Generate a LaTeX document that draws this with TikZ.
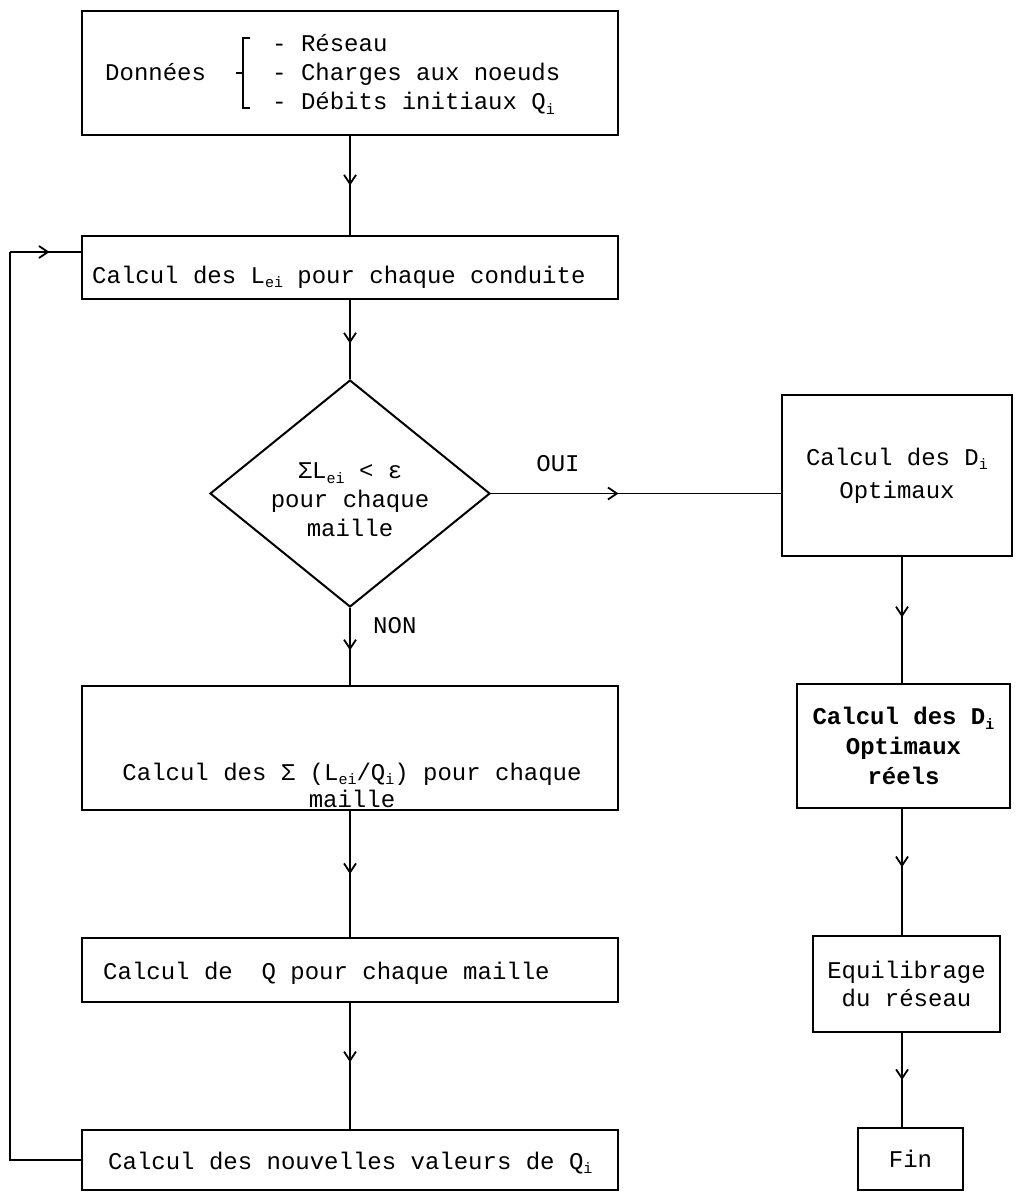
\documentclass[tikz,border=0pt]{standalone}
\usepackage{fontspec}
\setmainfont{Liberation Mono}
\usetikzlibrary{shapes.geometric,arrows.meta,decorations.markings,calc}
\newcommand\sbs[1]{\raisebox{-0.35ex}{\fontsize{15}{15}\selectfont #1}}
\begin{document}
\begin{tikzpicture}[x=1pt,y=-1pt,
  txt/.style={font=\fontsize{24}{24}\selectfont, inner sep=0pt},
  box/.style={draw, line width=2pt, inner sep=0pt},
  flow/.style={line width=1.8pt},
  midarrow/.style={postaction={decorate,decoration={markings,
      mark=at position #1 with {\arrow{Straight Barb[length=9pt,width=12pt,line width=1.8pt]}}}}},
  midarrow/.default=0.5]
\useasboundingbox[fill=white] (0,0) rectangle (1024,1201);

% left column boxes
\node[box, minimum width=536pt, minimum height=124pt] (top) at (350,73) {};
\node[txt, anchor=base west] (tdon) at (105,81) {Données};
\draw[line width=1.6pt] (250,38) -- (243,38) -- (243,108) -- (250,108) (243,73) -- (236,73);
\node[txt, anchor=base west] (t1) at (272,52) {- Réseau};
\node[txt, anchor=base west] (t2) at (272,81) {- Charges aux noeuds};
\node[txt, anchor=base west] (t3) at (272,110) {- Débits initiaux Q\sbs{i}};

\node[box, minimum width=536pt, minimum height=63pt] (b2) at (350,267.5) {};
\node[txt, anchor=base west] (b2t) at (92,283) {Calcul des L\sbs{ei} pour chaque conduite};

\node[diamond, draw, line width=2pt, inner sep=0pt, minimum width=280pt, minimum height=227pt] (dia) at (350,493.5) {};
\node[txt, align=center, font=\fontsize{24}{29}\selectfont] (diat) at (350,500) {ΣL\sbs{ei} < ε\\pour chaque\\maille};

\node[box, minimum width=536pt, minimum height=124pt] (sig) at (350,748) {};
\node[txt, align=center, font=\fontsize{24}{27}\selectfont] (sigt) at (352,785) {Calcul des Σ (L\sbs{ei}/Q\sbs{i}) pour chaque\\maille};

\node[box, minimum width=536pt, minimum height=64pt] (q) at (350,970) {};
\node[txt, anchor=base west] (qt) at (103,979) {Calcul de\ \ Q pour chaque maille};

\node[box, minimum width=536pt, minimum height=60pt] (bot) at (350,1160) {};
\node[txt, anchor=base west] (bott) at (108,1169) {Calcul des nouvelles valeurs de Q\sbs{i}};

% right column
\node[box, minimum width=230pt, minimum height=161pt, align=center, font=\fontsize{24}{33}\selectfont] (r1) at (897,475.5) {Calcul des D\sbs{i}\\Optimaux};
\node[box, line width=2.8pt, minimum width=213pt, minimum height=124pt, align=center, font=\fontsize{24}{30}\selectfont\bfseries] (r2) at (903.5,746) {Calcul des D\sbs{i}\\Optimaux\\réels};
\node[box, minimum width=187pt, minimum height=96pt, align=center, font=\fontsize{24}{28}\selectfont] (r3) at (906.5,984) {Equilibrage\\du réseau};
\node[box, minimum width=105pt, minimum height=62pt, font=\fontsize{24}{24}\selectfont] (fin) at (910.5,1159) {Fin};

\coordinate (spine) at (902,0);
\coordinate (fbc) at (10,252);
\coordinate (b2in) at (82,252);

% labels
\node[txt, anchor=base] (oui) at (558,471) {OUI};
\node[txt, anchor=base west] (non) at (373,633) {NON};

% connectors
\draw[flow, midarrow=0.5] (top.south) -- (b2.north);
\draw[flow, midarrow=0.55] (b2.south) -- (dia.north);
\draw[flow, midarrow=0.55] (dia.south) -- (sig.north);
\draw[flow, midarrow=0.5] (sig.south) -- (q.north);
\draw[flow, midarrow=0.47] (q.south) -- (bot.north);
\draw[flow] (bot.west) -| (fbc);
\draw[flow, midarrow=0.55] (fbc) -- (b2in);
\draw[flow, midarrow=0.44] (dia.east) -- (r1.west |- dia.east);
\draw[flow, midarrow=0.48] (r1.south -| spine) -- (r2.north -| spine);
\draw[flow, midarrow=0.46] (r2.south -| spine) -- (r3.north -| spine);
\draw[flow, midarrow=0.5] (r3.south -| spine) -- (fin.north -| spine);
\end{tikzpicture}
\end{document}
